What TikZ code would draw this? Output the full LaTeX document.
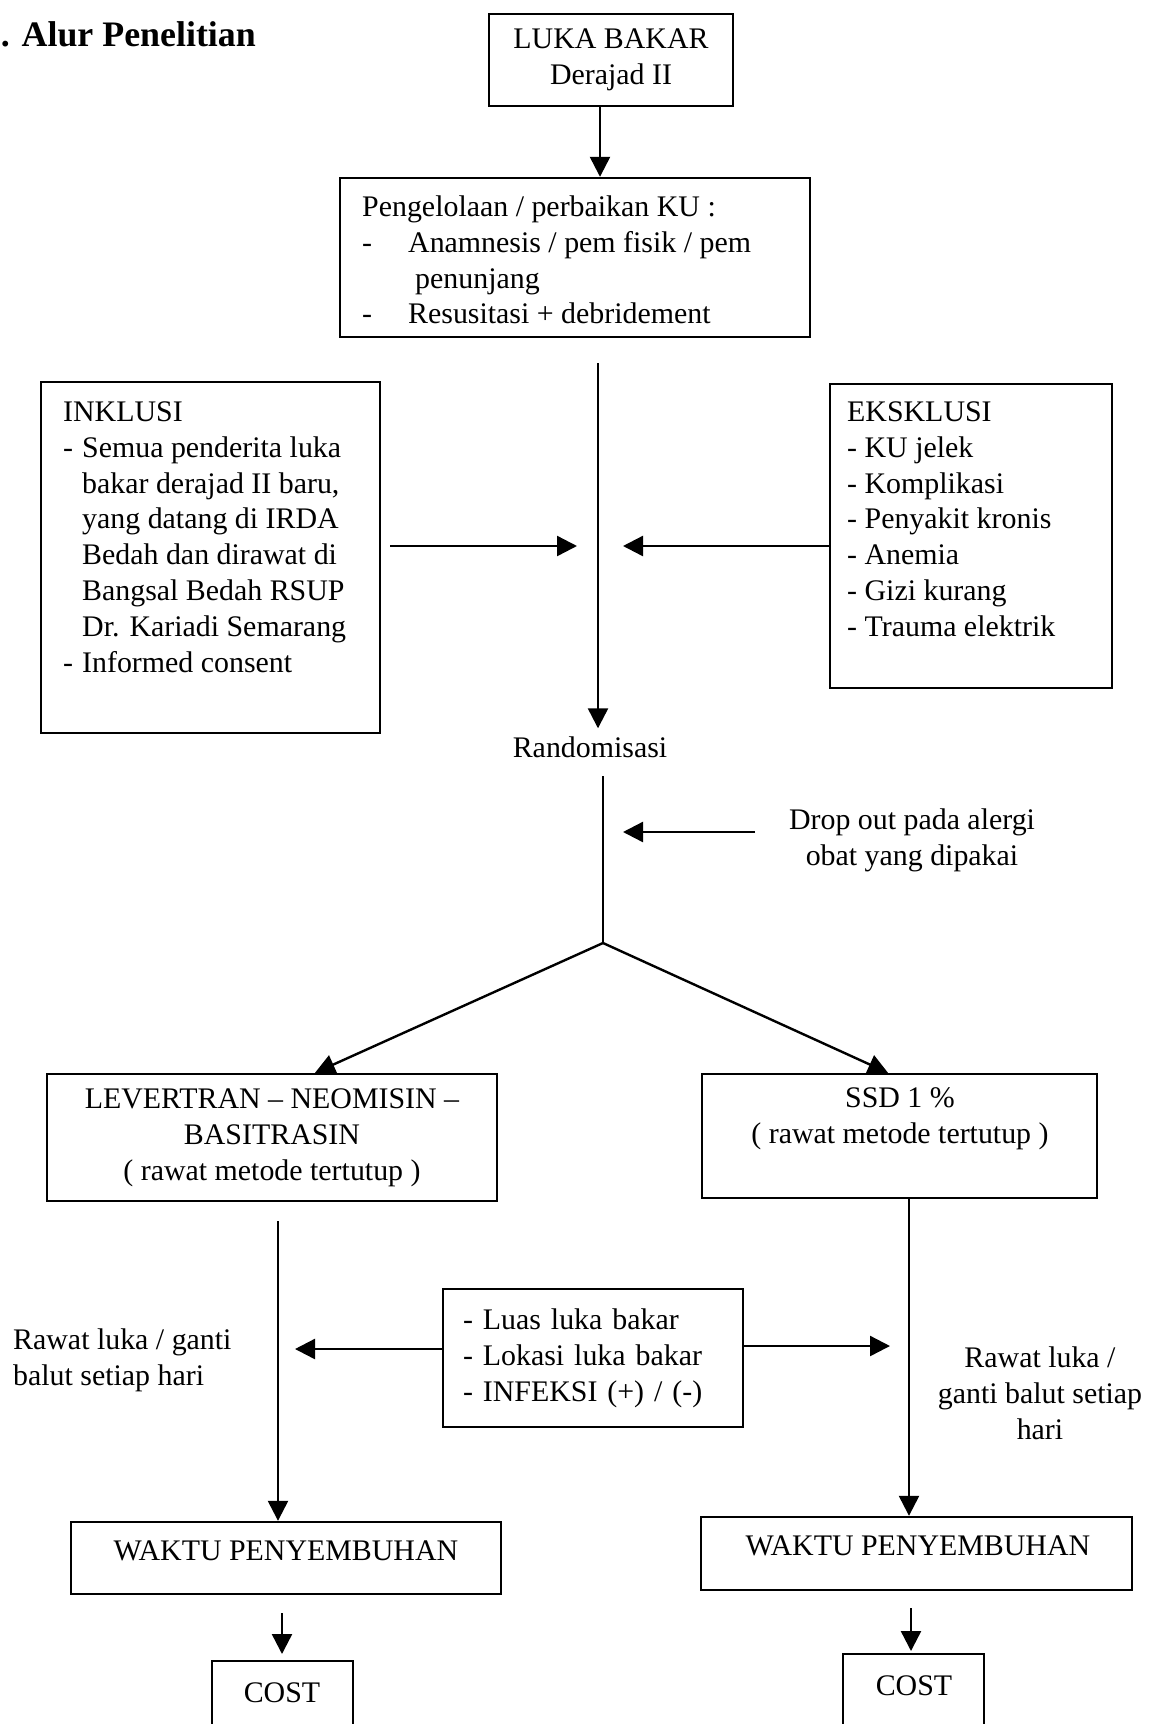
\documentclass[tikz,border=0pt]{standalone}
\usepackage{fontspec}
\setmainfont{Liberation Serif}
\usetikzlibrary{arrows.meta,calc}
\begin{document}
\begin{tikzpicture}[x=1bp,y=-1bp,
  every node/.style={font=\fontsize{30}{36}\selectfont},
  box/.style={draw, line width=2.4bp, inner sep=0pt},
  arr/.style={line width=2.4bp, -{Triangle[length=20bp,width=20bp]}},
  ln/.style={line width=2.4bp},
  txt/.style={inner sep=0pt, align=left, anchor=north west},
  ctxt/.style={inner sep=0pt, align=center},
]
\useasboundingbox (0,0) rectangle (1153,1724);

% title
\node[anchor=base east, inner sep=0pt, font=\bfseries\fontsize{36}{42}\selectfont] (title) at (256,46) {. Alur Penelitian};

% top boxes
\node[box, minimum width=244bp, minimum height=92bp, align=center] (b1) at (611,60) {LUKA BAKAR\\Derajad II};
\node[box, minimum width=470bp, minimum height=159bp] (b2) at (575,257.5) {};
\node[txt] (b2t) at (362,191) {\strut Pengelolaan / perbaikan KU :\\
  \makebox[46bp][l]{-}Anamnesis / pem fisik / pem\\
  \hspace*{53bp}penunjang\\
  \makebox[46bp][l]{-}Resusitasi + debridement};
\coordinate (a1) at (600,0);
\draw[arr] (a1 |- b1.south) -- (a1 |- b2.north);

% inclusion / exclusion
\node[box, minimum width=339bp, minimum height=351bp] (inkl) at (210.5,557.5) {};
\node[txt] (inklt) at (63,396) {\strut INKLUSI\\
  \makebox[19bp][l]{-}Semua penderita luka\\
  \hspace*{19bp}bakar derajad II baru,\\
  \hspace*{19bp}yang datang di IRDA\\
  \hspace*{19bp}Bedah dan dirawat di\\
  \hspace*{19bp}Bangsal Bedah RSUP\\
  \hspace*{19bp}Dr. Kariadi Semarang\\
  \makebox[19bp][l]{-}Informed consent};
\node[box, minimum width=282bp, minimum height=304bp] (eksk) at (971,536) {};
\node[txt] (ekskt) at (847,396) {\strut EKSKLUSI\\- KU jelek\\- Komplikasi\\- Penyakit kronis\\- Anemia\\- Gizi kurang\\- Trauma elektrik};

% main line
\coordinate (c1) at (598,363);
\node[inner sep=8bp] (rand) at (590,747) {Randomisasi};
\draw[arr] (c1) -- (c1 |- rand.north);
\coordinate (jn) at (598,546);
\draw[arr, shorten <=9bp, shorten >=21bp] (inkl.east |- jn) -- (jn);
\draw[arr, shorten >=25bp] (eksk.west |- jn) -- (jn);

\coordinate (c2) at (603,776);
\coordinate (apex) at (603,943);
\draw[ln] (c2) -- (apex);
\node[ctxt] (drop) at (912,840) {Drop out pada alergi\\obat yang dipakai};
\coordinate (dp) at (755,832);
\draw[arr, shorten >=20bp] (dp) -- (dp -| c2);

% treatment boxes
\node[box, minimum width=450bp, minimum height=127bp, align=center] (lev) at (272,1137.5) {LEVERTRAN – NEOMISIN –\\BASITRASIN\\( rawat metode tertutup )};
\node[box, minimum width=395bp, minimum height=124bp] (ssd) at (899.5,1136) {};
\node[ctxt] (ssdt) at (900,1119) {SSD 1 \%\\( rawat metode tertutup )};
\draw[arr] (apex) -- ([xshift=43bp]lev.north);
\draw[arr] (apex) -- ([xshift=-11.5bp]ssd.north);

% middle factors
\node[box, minimum width=300bp, minimum height=138bp, text width=260bp, inner xsep=20bp, align=left] (mid) at (593,1358) {- Luas luka bakar\\- Lokasi luka bakar\\- INFEKSI (+) / (-)};
\coordinate (ml) at (295,1349);
\coordinate (mr) at (890,1346);
\draw[arr] (mid.west |- ml) -- (ml);
\draw[arr] (mid.east |- mr) -- (mr);

\node[txt] (lab1) at (13,1324) {\strut Rawat luka / ganti\\balut setiap hari};
\node[ctxt] (lab2) at (1040,1393) {Rawat luka /\\ganti balut setiap\\hari};

% outcome boxes
\node[box, minimum width=430bp, minimum height=72bp] (w1) at (286,1558) {};
\node (w1t) at (286,1551) {WAKTU PENYEMBUHAN};
\node[box, minimum width=431bp, minimum height=73bp] (w2) at (916.5,1553.5) {};
\node (w2t) at (918,1546) {WAKTU PENYEMBUHAN};

\coordinate (lx) at (278,0);
\coordinate (rx) at (909,0);
\draw[arr, shorten <=19bp] (lx |- lev.south) -- (lx |- w1.north);
\draw[arr] (rx |- ssd.south) -- (rx |- w2.north);

% cost
\node[box, minimum width=141bp, minimum height=140bp, anchor=north] (cost1) at (282.5,1660) {};
\node (cost1t) at (282,1693) {COST};
\node[box, minimum width=141bp, minimum height=140bp, anchor=north] (cost2) at (913.5,1653) {};
\node (cost2t) at (914,1686) {COST};
\coordinate (cx1) at (282,0);
\coordinate (cx2) at (911,0);
\draw[arr, shorten <=18bp, shorten >=6bp] (cx1 |- w1.south) -- (cx1 |- cost1.north);
\draw[arr, shorten <=17bp, shorten >=2bp] (cx2 |- w2.south) -- (cx2 |- cost2.north);
\end{tikzpicture}
\end{document}
